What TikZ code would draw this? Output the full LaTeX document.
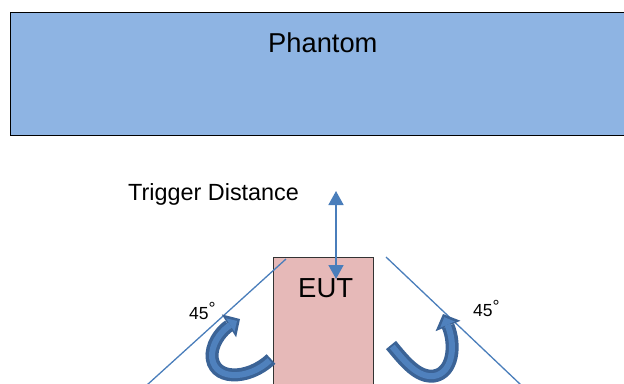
\documentclass[tikz,border=0pt]{standalone}
\usepackage{fontspec}
\setmainfont{Liberation Sans}
\usetikzlibrary{arrows.meta}
\definecolor{phantomblue}{HTML}{8EB4E3}
\definecolor{eutpink}{HTML}{E6B9B8}
\definecolor{lineblue}{HTML}{4A7EBB}
\definecolor{turndark}{HTML}{3B6396}
\definecolor{turnlight}{HTML}{4F81BD}
\newcommand{\degring}{\raisebox{4.5pt}{\textdegree}}

\begin{document}
\begin{tikzpicture}[x=1pt,y=-1pt,
	txt/.style={inner sep=0pt,anchor=base west},
	turnout/.style={turndark,line width=13pt,-{Triangle[length=13pt,width=27pt,line width=0pt]}},
	turnin/.style={turnlight,line width=6pt,shorten >=3.5pt,shorten <=2pt,-{Triangle[length=8pt,width=16pt,line width=0pt]}}]
	\useasboundingbox (0,0) rectangle (624,383);
	\clip (0,0) rectangle (624,383);
	% Phantom
	\node[draw=black,line width=1.1pt,fill=phantomblue,minimum width=640pt,minimum height=123pt,anchor=north west] (phantom) at (10,12) {};
	\node[txt,font=\fontsize{27.3}{32}\selectfont] (phantomtext) at (268,52.5) {Phantom};
	% EUT
	\node[draw=black!80,line width=0.9pt,fill=eutpink,minimum width=100pt,minimum height=150pt,anchor=north west] (eut) at (273,257) {};
	\node[txt,font=\fontsize{27.5}{32}\selectfont] (euttext) at (298,297) {EUT};
	% Trigger distance
	\node[txt,font=\fontsize{23.4}{28}\selectfont] (trigtext) at (128,200) {Trigger Distance};
	\coordinate (trigtop) at (336,191);
	\coordinate (trigbot) at (336,279);
	\draw[lineblue,line width=1.8pt,{Triangle[length=14pt,width=15pt]}-{Triangle[length=14pt,width=15pt]}] (trigtop) -- (trigbot);
	% 45 degree lines
	\coordinate (la) at (147,385);
	\coordinate (lb) at (286,259);
	\coordinate (ra) at (386,257);
	\coordinate (rb) at (521,385);
	\draw[lineblue,line width=1.3pt] (la) -- (lb);
	\draw[lineblue,line width=1.3pt] (ra) -- (rb);
	\node[txt,font=\fontsize{17.5}{20}\selectfont] (langle) at (189,319) {45\degring};
	\node[txt,font=\fontsize{17.5}{20}\selectfont] (rangle) at (473,316.5) {45\degring};
	% Rotation arrows
	\draw[turnout] (271,359) .. controls (248,381) and (211,381) .. (212,354) .. controls (213,340) and (224,329) .. (240,319);
	\draw[turnin] (271,359) .. controls (248,381) and (211,381) .. (212,354) .. controls (213,340) and (224,329) .. (240,319);
	\draw[turnout] (391,345) .. controls (405,362) and (418,378) .. (434,376) .. controls (453,373) and (456,345) .. (443,314);
	\draw[turnin] (391,345) .. controls (405,362) and (418,378) .. (434,376) .. controls (453,373) and (456,345) .. (443,314);
\end{tikzpicture}
\end{document}
